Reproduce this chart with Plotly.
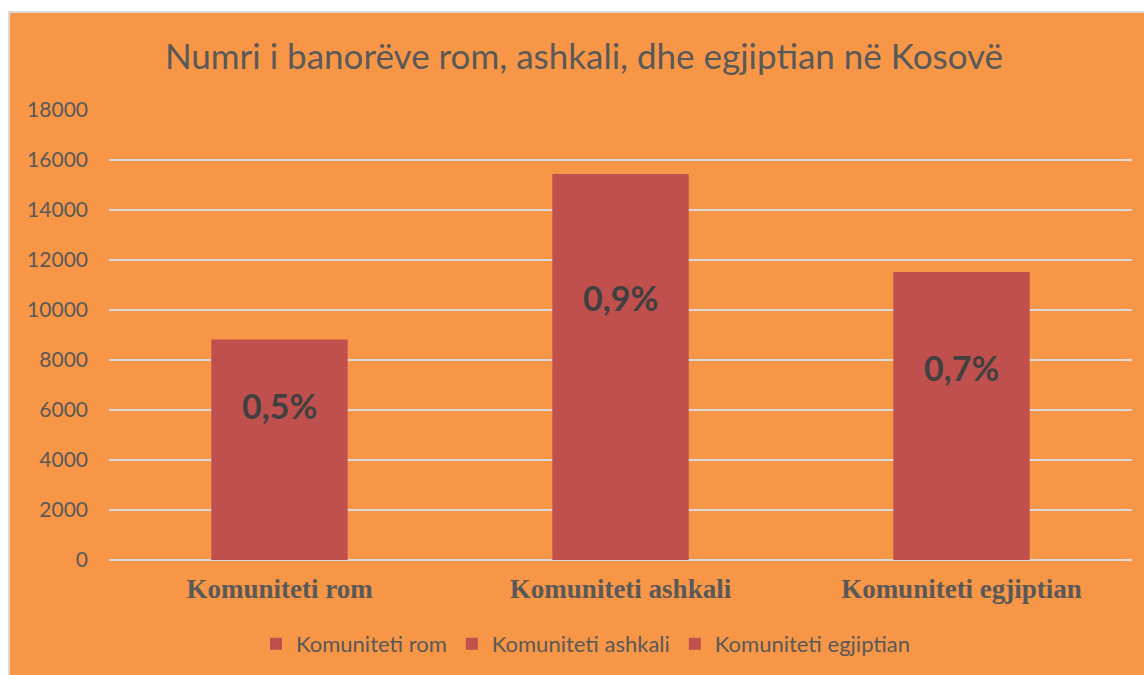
import plotly.graph_objects as go

categories = ["Komuniteti rom", "Komuniteti ashkali", "Komuniteti egjiptian"]
values = [8824, 15436, 11524]
pct_labels = ["0,5%", "0,9%", "0,7%"]
label_y = [6200, 10500, 7700]
tick_vals = [0, 2000, 4000, 6000, 8000, 10000, 12000, 14000, 16000, 18000]

ORANGE = "#F79646"
BAR = "#C0504D"
GRAY = "#595959"
GRID = "#D9D9D9"

W, H = 1144, 675
L, R, T, B = 109, 12, 110, 115
PW, PH = W - L - R, H - T - B

fig = go.Figure()
for c, v in zip(categories, values):
    fig.add_trace(go.Bar(x=[c], y=[v], name=c, marker_color=BAR, width=0.4,
                         marker_line_width=0, hoverinfo="x+y"))

for c, t, y in zip(categories, pct_labels, label_y):
    fig.add_annotation(x=c, y=y, text=f"<b>{t}</b>", showarrow=False,
                       font=dict(family="Lato", size=34, color="#404040"))

def px_x(p):
    return (p - L) / PW

def px_y(p):
    return (H - B - p) / PH

shapes = [
    dict(type="rect", xref="paper", yref="paper", layer="below",
         x0=px_x(0), x1=px_x(W), y0=px_y(11), y1=px_y(0),
         fillcolor="white", line_width=0),
    dict(type="rect", xref="paper", yref="paper", layer="below",
         x0=px_x(0), x1=px_x(8), y0=px_y(H), y1=px_y(0),
         fillcolor="white", line_width=0),
    dict(type="line", xref="paper", yref="paper", layer="below",
         x0=px_x(8), x1=px_x(W), y0=px_y(12), y1=px_y(12),
         line=dict(color=GRID, width=2)),
    dict(type="line", xref="paper", yref="paper", layer="below",
         x0=px_x(9), x1=px_x(9), y0=px_y(H), y1=px_y(11),
         line=dict(color=GRID, width=2)),
]

fig.update_layout(
    width=W, height=H,
    margin=dict(l=L, r=R, t=T, b=B),
    paper_bgcolor=ORANGE, plot_bgcolor=ORANGE,
    barmode="overlay",
    shapes=shapes,
    title=dict(text="Numri i banorëve rom, ashkali, dhe egjiptian në Kosovë",
               x=584 / W, xref="container", xanchor="center",
               y=1 - 57 / H, yref="container", yanchor="middle",
               font=dict(family="Lato", size=35, color=GRAY)),
    showlegend=True,
    legend=dict(orientation="h", x=586 / W, xanchor="center",
                y=1 - 644 / H, yanchor="middle", xref="container", yref="container",
                font=dict(family="Lato", size=22, color=GRAY),
                itemwidth=30, bgcolor="rgba(0,0,0,0)"),
    xaxis=dict(showgrid=False, showline=False, zeroline=False,
               tickfont=dict(family="Liberation Serif", size=27, color=GRAY),
               ticklabelstandoff=10, categoryorder="array", categoryarray=categories,
               tickprefix="<b>", ticksuffix="</b>"),
    yaxis=dict(range=[0, 18000], tickvals=tick_vals, showgrid=True,
               gridcolor=GRID, gridwidth=2, zeroline=True, zerolinecolor=GRID,
               zerolinewidth=2, showline=False,
               tickfont=dict(family="Lato", size=21, color=GRAY),
               ticklabelstandoff=20, tickformat="d"),
)

fig.write_html("out.html", config={"displayModeBar": False})

with open("out.html", encoding="utf-8") as f:
    html = f.read()
html = html.replace("<body>", '<body style="margin:0">', 1)
with open("out.html", "w", encoding="utf-8") as f:
    f.write(html)
